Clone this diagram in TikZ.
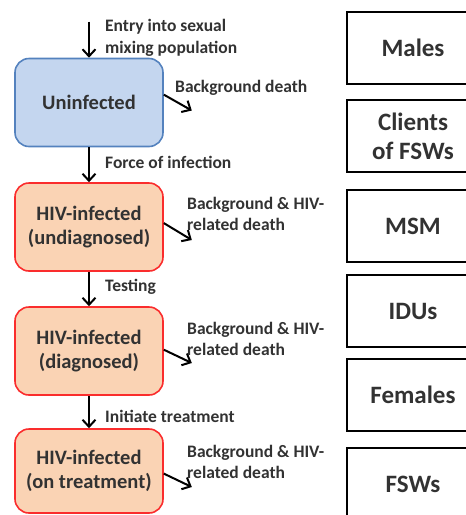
\documentclass[tikz,border=0pt]{standalone}
\usepackage{fontspec}
\setmainfont{Carlito}
\usetikzlibrary{calc}
\usetikzlibrary{arrows.meta}

\definecolor{bluefill}{RGB}{196,214,239}
\definecolor{blueedge}{RGB}{84,130,190}
\definecolor{orangefill}{RGB}{250,211,180}
\definecolor{rededge}{RGB}{250,45,45}
\definecolor{txtgray}{RGB}{50,50,50}

\begin{document}
\begin{tikzpicture}[x=1pt,y=-1pt,
		stage/.style={rounded corners=14pt,line width=1.6pt,minimum width=148pt,minimum height=88pt,align=center,text=txtgray,font=\fontsize{20.5}{24}\selectfont\bfseries},
		group/.style={draw=black,line width=2pt,minimum width=132pt,minimum height=72pt,align=center,text=txtgray,font=\fontsize{25}{29}\selectfont\bfseries},
		lbl/.style={anchor=west,align=left,inner sep=2pt,text=txtgray,font=\fontsize{17.5}{21.5}\selectfont\bfseries},
		flow/.style={-{Straight Barb[length=7pt,width=13pt]},line width=2pt,black}]
			
			% 固定画布大小
			\useasboundingbox (0,0) rectangle (466,515);
			
			% 绘制左侧状态框
			\node[stage,fill=bluefill,draw=blueedge] (uninf) at (89,102.5) {Uninfected};
			\node[stage,fill=orangefill,draw=rededge] (undiag) at (89,227) {HIV-infected\\(undiagnosed)};
			\node[stage,fill=orangefill,draw=rededge] (diag) at (89,351) {HIV-infected\\(diagnosed)};
			\node[stage,fill=orangefill,draw=rededge,minimum height=84pt] (treat) at (89,471) {HIV-infected\\(on treatment)};
			
			% 绘制右侧人群框
			\node[group] (males) at (413,47.5) {Males};
			\node[group] (clients) at (413,136) {Clients\\of FSWs};
			\node[group] (msm) at (413,226) {MSM};
			\node[group] (idus) at (413,311) {IDUs};
			\node[group] (females) at (413,395) {Females};
			\node[group] (fsws) at (413,484) {FSWs};
			
			% 计算箭头端点
			\coordinate (entry) at ($(uninf.north)+(0,-36)$);
			\coordinate (d1) at ($(uninf.east)+(28,8)$);
			\coordinate (d2) at ($(undiag.east)+(28,13)$);
			\coordinate (d3) at ($(diag.east)+(28,12)$);
			\coordinate (d4) at ($(treat.east)+(28,16)$);
			
			% 绘制连接线
			\draw[flow] (entry) -- (uninf.north);
			\draw[flow] (uninf) -- (undiag);
			\draw[flow] (undiag) -- (diag);
			\draw[flow] (diag) -- (treat);
			\draw[flow] (uninf.6) -- (d1);
			\draw[flow] (undiag.3) -- (d2);
			\draw[flow] (diag.1) -- (d3);
			\draw[flow] (treat.-2) -- (d4);
			
			% 标注文字
			\node[lbl] (lentry) at (103,38) {Entry into sexual\\mixing population};
			\node[lbl] (lbg) at (173,88) {Background death};
			\node[lbl] (lforce) at (103,162) {Force of infection};
			\node[lbl] (lhiv1) at (185,214) {Background \& HIV-\\related death};
			\node[lbl] (ltest) at (103,287) {Testing};
			\node[lbl] (lhiv2) at (185,339) {Background \& HIV-\\related death};
			\node[lbl] (linit) at (103,416) {Initiate treatment};
			\node[lbl] (lhiv3) at (185,462) {Background \& HIV-\\related death};
			
		\end{tikzpicture}
\end{document}
